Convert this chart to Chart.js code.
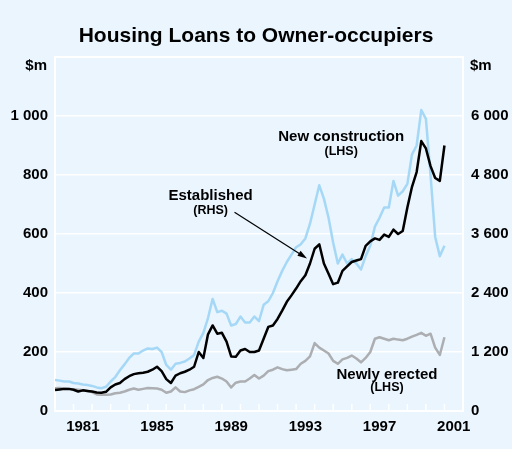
<!DOCTYPE html>
<html>
<head>
<meta charset="utf-8">
<script src="https://cdn.jsdelivr.net/npm/chart.js"></script>
<style>
  html, body { margin: 0; padding: 0; background: #ffffff; }
  canvas { display: block; }
</style>
</head>
<body>
<canvas id="loanChart" width="512" height="449"></canvas>
<script>
// quarterly observations, decimal years
var quarters = [];
for (var i = 0; i <= 84; i++) quarters.push(1980 + i / 4);

// $m, left-hand scale
var newConstruction = [
  105, 103, 100, 100, 95, 93, 90, 88, 85, 80, 77, 82,
  100, 115, 138, 158, 180, 195, 195, 205, 212, 210, 215, 200,
  156, 140, 160, 163, 168, 178, 190, 235, 265, 315, 380, 335,
  340, 330, 290, 295, 320, 300, 300, 320, 305, 360, 372, 400,
  440, 475, 505, 530, 555, 565, 585, 635, 700, 765, 720, 655,
  570, 500, 530, 500, 515, 500, 480, 525, 560, 625, 655, 690,
  690, 780, 730, 745, 770, 870, 900, 1020, 990, 800, 590, 525,
  560
];
// $m, right-hand scale
var established = [
  426, 438, 450, 450, 432, 396, 420, 408, 396, 378, 372, 390,
  480, 540, 570, 648, 708, 750, 768, 780, 798, 840, 900, 810,
  648, 570, 720, 768, 798, 840, 900, 1200, 1080, 1560, 1740, 1572,
  1590, 1410, 1110, 1104, 1230, 1260, 1200, 1200, 1230, 1470, 1710, 1740,
  1872, 2040, 2220, 2352, 2490, 2640, 2760, 3000, 3300, 3390, 3000, 2790,
  2580, 2610, 2850, 2940, 3030, 3060, 3090, 3360, 3450, 3510, 3480, 3588,
  3540, 3690, 3600, 3660, 4140, 4560, 4860, 5490, 5340, 4980, 4740, 4680,
  5400
];
// $m, left-hand scale
var newlyErected = [
  77, 78, 76, 75, 74, 72, 70, 68, 64, 56, 55, 55,
  56, 60, 62, 66, 72, 76, 72, 75, 78, 77, 76, 72,
  62, 66, 80, 66, 64, 70, 74, 82, 90, 105, 112, 116,
  110, 100, 80, 96, 100, 100, 110, 122, 110, 120, 135, 140,
  148, 142, 138, 140, 142, 160, 170, 185, 230, 215, 205, 195,
  170, 160, 175, 180, 188, 178, 165, 180, 200, 245, 250, 245,
  240, 245, 242, 240, 245, 252, 258, 265, 255, 262, 215, 190,
  250
];

var yearLabels = [1981, 1985, 1989, 1993, 1997, 2001];
var leftTicks = [0, 200, 400, 600, 800, 1000];
var rightTicks = [0, 1200, 2400, 3600, 4800, 6000];

var fontName = "'Liberation Sans', Arial, sans-serif";

function pts(arr) {
  return arr.map(function (v, i) { return { x: quarters[i], y: v }; });
}
function fmt(v) {
  if (v >= 1000) return Math.floor(v / 1000) + ' ' + String(v % 1000).padStart(3, '0');
  return String(v);
}

// text notes placed in data space (year, LHS $m)
var notes = [
  { text: 'New construction', x: 1995.43, y: 928, size: 15 },
  { text: '(LHS)', x: 1995.43, y: 880, size: 12.5 },
  { text: 'Established', x: 1988.39, y: 728, size: 15 },
  { text: '(RHS)', x: 1988.39, y: 680, size: 12.5 },
  { text: 'Newly erected', x: 1997.9, y: 122, size: 15 },
  { text: '(LHS)', x: 1997.9, y: 79, size: 12.5 }
];
var arrow = { from: [1989.68, 674], to: [1993.59, 517] };

var decor = {
  id: 'decor',
  beforeDraw: function (chart) {
    var c = chart.ctx;
    c.save();
    c.fillStyle = '#eaf5fe';
    c.fillRect(0, 0, chart.width, chart.height);
    c.restore();
  },
  beforeDatasetsDraw: function (chart) {
    var c = chart.ctx, a = chart.chartArea, xs = chart.scales.x;
    c.save();
    c.strokeStyle = '#ffffff';
    c.lineWidth = 2;
    c.strokeRect(a.left, a.top, a.right - a.left, a.bottom - a.top);
    c.lineWidth = 1.5;
    for (var yr = 1981; yr <= 2001; yr++) {
      var px = xs.getPixelForValue(yr);
      c.beginPath();
      c.moveTo(px, a.bottom);
      c.lineTo(px, a.bottom - 7);
      c.stroke();
    }
    c.restore();
  },
  afterDatasetsDraw: function (chart) {
    var c = chart.ctx, xs = chart.scales.x, ys = chart.scales.y, a = chart.chartArea;
    c.save();
    c.fillStyle = '#000';
    c.textAlign = 'center';
    c.textBaseline = 'middle';
    notes.forEach(function (n) {
      c.font = 'bold ' + n.size + 'px ' + fontName;
      c.fillText(n.text, xs.getPixelForValue(n.x), ys.getPixelForValue(n.y));
    });
    // arrow
    var x1 = xs.getPixelForValue(arrow.from[0]), y1 = ys.getPixelForValue(arrow.from[1]);
    var x2 = xs.getPixelForValue(arrow.to[0]), y2 = ys.getPixelForValue(arrow.to[1]);
    var ang = Math.atan2(y2 - y1, x2 - x1);
    c.strokeStyle = '#000';
    c.lineWidth = 1.2;
    c.beginPath();
    c.moveTo(x1, y1);
    c.lineTo(x2 - 6 * Math.cos(ang), y2 - 6 * Math.sin(ang));
    c.stroke();
    c.beginPath();
    c.moveTo(x2, y2);
    c.lineTo(x2 - 10 * Math.cos(ang - 0.3), y2 - 10 * Math.sin(ang - 0.3));
    c.lineTo(x2 - 10 * Math.cos(ang + 0.3), y2 - 10 * Math.sin(ang + 0.3));
    c.closePath();
    c.fill();
    // unit labels
    c.font = 'bold 15px ' + fontName;
    var uy = ys.getPixelForValue(1200) + 9;
    c.textAlign = 'right';
    c.fillText('$m', a.left - 8, uy);
    c.textAlign = 'left';
    c.fillText('$m', a.right + 7, uy);
    c.restore();
  }
};

var ctx = document.getElementById('loanChart').getContext('2d');
var chart = new Chart(ctx, {
  type: 'line',
  data: {
    datasets: [
      {
        label: 'Established (RHS)',
        data: pts(established),
        yAxisID: 'y2',
        borderColor: '#000000',
        borderWidth: 2.5
      },
      {
        label: 'New construction (LHS)',
        data: pts(newConstruction),
        yAxisID: 'y',
        borderColor: 'rgb(165,216,246)',
        borderWidth: 2.5
      },
      {
        label: 'Newly erected (LHS)',
        data: pts(newlyErected),
        yAxisID: 'y',
        borderColor: 'rgb(172,174,177)',
        borderWidth: 2.5
      }
    ]
  },
  options: {
    responsive: false,
    animation: false,
    elements: {
      point: { radius: 0 },
      line: { tension: 0, borderJoinStyle: 'round' }
    },
    layout: { padding: 0 },
    plugins: {
      legend: { display: false },
      tooltip: { enabled: false },
      title: {
        display: true,
        text: 'Housing Loans to Owner-occupiers',
        color: '#000',
        font: { family: fontName, size: 21, weight: 'bold' },
        padding: { top: 24, bottom: 7.8 }
      }
    },
    scales: {
      x: {
        type: 'linear',
        min: 1980,
        max: 2002,
        grid: { display: false, drawTicks: false },
        border: { display: false },
        afterBuildTicks: function (s) {
          s.ticks = yearLabels.map(function (y) { return { value: y + 0.5 }; });
        },
        afterFit: function (s) { s.height = 38; },
        ticks: {
          color: '#000',
          padding: 7,
          maxRotation: 0,
          autoSkip: false,
          font: { family: fontName, size: 15, weight: 'bold' },
          callback: function (v) { return String(Math.floor(v)); }
        }
      },
      y: {
        position: 'left',
        min: 0,
        max: 1200,
        afterBuildTicks: function (s) {
          s.ticks = leftTicks.concat([1200]).map(function (v) { return { value: v }; });
        },
        afterFit: function (s) { s.width = 55; },
        grid: { color: '#ffffff', lineWidth: 1.5, drawTicks: false },
        border: { display: false },
        ticks: {
          color: '#000',
          padding: 7,
          font: { family: fontName, size: 15, weight: 'bold' },
          callback: function (v) { return v === 1200 ? '' : fmt(v); }
        }
      },
      y2: {
        position: 'right',
        min: 0,
        max: 7200,
        afterBuildTicks: function (s) {
          s.ticks = rightTicks.concat([7200]).map(function (v) { return { value: v }; });
        },
        afterFit: function (s) { s.width = 49; },
        grid: { display: false, drawTicks: false },
        border: { display: false },
        ticks: {
          color: '#000',
          padding: 8,
          font: { family: fontName, size: 15, weight: 'bold' },
          callback: function (v) { return v === 7200 ? '' : fmt(v); }
        }
      }
    }
  },
  plugins: [decor]
});
</script>
</body>
</html>
